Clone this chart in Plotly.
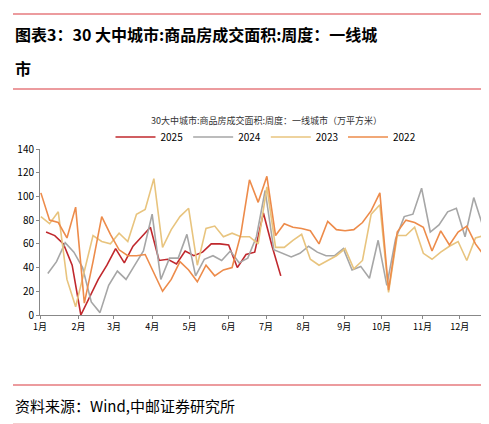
import plotly.graph_objects as go

months = ["1月","2月","3月","4月","5月","6月","7月","8月","9月","10月","11月","12月"]
month_pos = [0, 4.42, 8.5, 12.9, 17.2, 21.7, 26, 30.3, 35, 39.3, 44, 48.3]

y2025 = [70,67,60,42,0,15,30,42,56,44,58,66,74,46,47,43,54,50,53,60,60,59,40,51,53,86,58,33]
y2024 = [35,45,61,53,40,11,2,25,37,30,42,54,85,30,48,48,68,33,47,50,46,54,44,48,66,105,55,52,49,52,
         58,53,50,50,56,38,41,31,63,25,64,83,85,107,70,76,87,90,66,99,76,100]
y2023 = [83,77,87,30,7,38,67,62,60,69,62,85,89,115,57,72,83,90,42,73,75,66,69,66,66,60,108,57,57,63,
         68,47,42,46,50,56,39,46,85,93,19,67,67,74,52,47,53,58,62,46,65,67,69]
y2022 = [103,80,78,65,91,10,45,83,68,55,50,50,51,35,20,30,45,38,28,42,33,38,40,68,114,95,117,67,77,74,
         73,71,60,79,72,71,72,78,88,103,21,70,80,78,74,54,71,59,70,75,60,50]

series = [("2025", y2025, 0.7, "#C0282D"), ("2024", y2024, 0.9, "#A6A6A6"),
          ("2023", y2023, 0.1, "#E8C47E"), ("2022", y2022, 0.1, "#ED8B4A")]

fig = go.Figure()
for name, ys, start, col in series:
    fig.add_trace(go.Scatter(x=[start + i for i in range(len(ys))], y=ys, mode="lines", name=name,
                             line=dict(color=col, width=1.6)))

fig.update_layout(
    width=489, height=424, margin=dict(l=32, r=5, t=141, b=117),
    paper_bgcolor="white", plot_bgcolor="white",
    font=dict(family="Noto Sans CJK SC", size=10, color="#000"),
    showlegend=True,
    legend=dict(orientation="h", x=0.5, xanchor="center", y=(307-129)/166, yanchor="middle",
                font=dict(size=10), traceorder="normal", itemwidth=40),
    xaxis=dict(range=[0, 52], tickvals=month_pos, ticktext=months, showgrid=False,
               showline=True, linecolor="#888", ticks="outside", ticklen=3, tickcolor="#888",
               tickfont=dict(size=9), zeroline=False),
    yaxis=dict(range=[0, 140], dtick=20, showgrid=False, showline=True, linecolor="#888",
               ticks="outside", ticklen=3, tickcolor="#888", tickfont=dict(size=10), zeroline=False),
)
fig.add_annotation(text="30大中城市:商品房成交面积:周度：一线城市（万平方米）", xref="paper", yref="paper",
                   x=0.5, y=(307-113)/166, xanchor="center", yanchor="middle", showarrow=False,
                   font=dict(size=9, color="#333"))
fig.add_annotation(text="<b>图表3：30 大中城市:商品房成交面积:周度：一线城</b>", xref="paper", yref="paper",
                   x=-27/452, y=(307-26)/166, xanchor="left", yanchor="middle", showarrow=False, font=dict(size=16))
fig.add_annotation(text="<b>市</b>", xref="paper", yref="paper",
                   x=-27/452, y=(307-60)/166, xanchor="left", yanchor="middle", showarrow=False, font=dict(size=16))
fig.add_annotation(text="资料来源：Wind,中邮证券研究所", xref="paper", yref="paper",
                   x=-27/452, y=(307-397)/166, xanchor="left", yanchor="middle", showarrow=False, font=dict(size=15))
for yy, w in [(6, 1.2), (81, 1.2), (377, 1.2), (417, 2.5)]:
    fig.add_shape(type="line", xref="paper", yref="paper", x0=-27/452, x1=451/452,
                  y0=(307-yy)/166, y1=(307-yy)/166, line=dict(color="#D9383E", width=w))

fig.write_html("out.html")
